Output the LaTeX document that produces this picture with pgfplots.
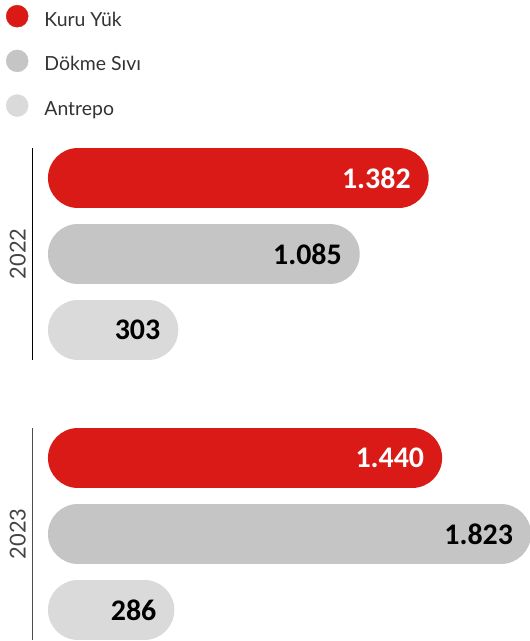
\documentclass[border=0pt]{standalone}
\usepackage{pgfplots}
\pgfplotsset{compat=1.18}
\usepackage{fontspec}
\setmainfont{Lato}
\newfontfamily\valfont{Carlito}
\definecolor{kred}{HTML}{DA1A16}
\definecolor{kgray}{HTML}{C5C5C5}
\definecolor{klight}{HTML}{DADADA}
\definecolor{ytext}{HTML}{444444}

% bar style: thick line with round caps
\pgfplotsset{pill/.style={line width=60bp, line cap=round, forget plot}}
\tikzset{val/.style={anchor=east, inner sep=0pt, xshift=42bp, font=\valfont\bfseries\fontsize{30}{30}\selectfont}}

\begin{document}
\begin{tikzpicture}
\begin{axis}[
    scale only axis,
    width=530bp, height=641bp,
    xmin=-336, xmax=1948,
    ymin=-641, ymax=0,
    hide axis,
    clip=false,
    legend style={at={(axis description cs:0,1)}, anchor=north west, yshift=-5bp,
        draw=none, fill=none, inner sep=0pt, outer sep=0pt,
        row sep=22bp, column sep=16bp,
        font=\fontsize{19.5}{19.5}\selectfont, text=black!80,
        nodes={inner sep=0pt}},
    legend cell align=left,
]
\addlegendimage{legend image code/.code={\path (0,0); \fill[kred] (17bp,0.36em) circle (11bp);}}
\addlegendentry{Kuru Yük}
\addlegendimage{legend image code/.code={\path (0,0); \fill[kgray] (17bp,0.36em) circle (11bp);}}
\addlegendentry{Dökme Sıvı}
\addlegendimage{legend image code/.code={\path (0,0); \fill[klight] (17bp,0.36em) circle (11bp);}}
\addlegendentry{Antrepo}

% 2022
\addplot[pill, kred] coordinates {(0,-178) (1382,-178)} node[pos=1, val, text=white] {1.382};
\addplot[pill, kgray] coordinates {(0,-254) (1085,-254)} node[pos=1, val, text=black] {1.085};
\addplot[pill, klight] coordinates {(0,-330) (303,-330)} node[pos=1, val, text=black] {303};
% 2023
\addplot[pill, kred] coordinates {(0,-458) (1440,-458)} node[pos=1, val, text=white] {1.440};
\addplot[pill, kgray] coordinates {(0,-534) (1823,-534)} node[pos=1, val, text=black] {1.823};
\addplot[pill, klight] coordinates {(0,-610) (286,-610)} node[pos=1, val, text=black] {286};

% year separators and labels
\draw[black, line width=1bp] (axis cs:-194,-148) -- (axis cs:-194,-360);
\draw[black!70, line width=1bp] (axis cs:-194,-428) -- (axis cs:-194,-640);
\node[rotate=90, text=ytext, font=\fontsize{22}{22}\selectfont] at (axis cs:-259,-254) {2022};
\node[rotate=90, text=ytext, font=\fontsize{22}{22}\selectfont] at (axis cs:-259,-534) {2023};
\end{axis}
\pgfresetboundingbox
\useasboundingbox (0,0) rectangle (530bp,641bp);
\end{tikzpicture}
\end{document}
